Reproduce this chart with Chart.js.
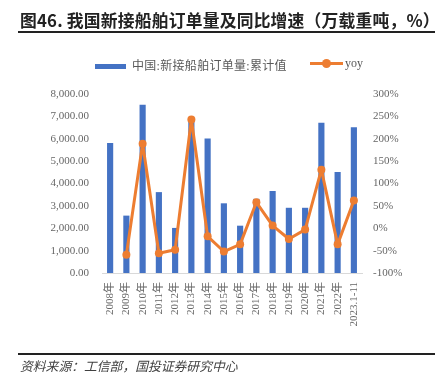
<!DOCTYPE html>
<html><head><meta charset="utf-8">
<script src="https://cdn.jsdelivr.net/npm/chart.js@4"></script>
<style>
html,body{margin:0;padding:0;background:#fff;width:438px;height:381px;overflow:hidden;}
#wrap{position:relative;width:438px;height:381px;}
canvas{position:absolute;left:0;top:0;}
.title{position:absolute;left:20px;top:8px;font:bold 16.8px "Noto Sans CJK SC",sans-serif;color:#222;white-space:nowrap;letter-spacing:0.2px;}
.rule{position:absolute;left:18px;width:417px;height:1.5px;background:#222;}
.src{position:absolute;left:20px;top:354px;font:italic 12.8px "Noto Sans CJK SC",sans-serif;color:#404040;white-space:nowrap;}
.leg{position:absolute;top:56px;font:12px "Liberation Serif","Noto Sans CJK SC",serif;color:#595959;white-space:nowrap;}
</style></head>
<body><div id="wrap">
<canvas id="c" width="438" height="381"></canvas>
<div class="title">图46. 我国新接船舶订单量及同比增速（万载重吨，%）</div>
<div class="rule" style="top:31px"></div>
<div class="leg" style="left:95px"><span style="display:inline-block;width:31px;height:5px;background:#4472C4;vertical-align:middle;margin-right:6px;position:relative;top:-1px"></span><span id="l1" style="letter-spacing:0.3px"></span></div>
<div class="leg" style="left:310px"><span style="display:inline-block;position:relative;width:33px;height:3px;background:#ED7D31;vertical-align:middle;margin-right:2px;top:-1px"><span style="position:absolute;left:12px;top:-3px;width:9px;height:9px;border-radius:50%;background:#ED7D31"></span></span><span id="l2"></span></div>
<div class="rule" style="top:353px"></div>
<div class="src" style="top:356px">资料来源：工信部，国投证券研究中心</div>
</div>
<script>
const categories = ["2008年","2009年","2010年","2011年","2012年","2013年","2014年","2015年","2016年","2017年","2018年","2019年","2020年","2021年","2022年","2023.1-11"];
const orders = [5800,2550,7500,3600,2000,6800,6000,3100,2100,3300,3650,2900,2900,6700,4500,6500];
const yoy = [null,-59,189,-56,-48,243,-18,-52,-36,58,6,-24,-3,131,-36,62];
const barLabel = "中国:新接船舶订单量:累计值";
const lineLabel = "yoy";
const leftTicks = {min:0,max:8000,step:1000};
const rightTicks = {min:-100,max:300,step:50};

document.getElementById('l1').textContent = barLabel;
document.getElementById('l2').textContent = lineLabel;

const tickFont = {family:'"Liberation Serif","Noto Sans CJK SC",serif',size:11};
const tickColor = '#666666';

new Chart(document.getElementById('c'), {
  type:'bar',
  data:{
    labels:categories,
    datasets:[
      {type:'line',label:lineLabel,data:yoy,yAxisID:'y1',borderColor:'#ED7D31',backgroundColor:'#ED7D31',borderWidth:3,borderJoinStyle:'round',borderCapStyle:'round',pointRadius:4,pointHoverRadius:4,pointBorderWidth:0,tension:0,spanGaps:false,order:0},
      {type:'bar',label:barLabel,data:orders,yAxisID:'y',backgroundColor:'#4472C4',barThickness:5.5,order:1}
    ]
  },
  options:{
    responsive:false,animation:false,
    layout:{padding:{top:94,left:0,right:0,bottom:0}},
    plugins:{legend:{display:false},tooltip:{enabled:false}},
    scales:{
      x:{
        grid:{display:false,drawTicks:false},
        border:{display:true,color:'#d9d9d9',width:1},
        ticks:{font:tickFont,color:tickColor,minRotation:90,maxRotation:90,autoSkip:false,padding:9},
        afterFit(s){s.height=108;}
      },
      y:{
        position:'left',min:leftTicks.min,max:leftTicks.max,
        grid:{display:false,drawTicks:false},border:{display:false},
        ticks:{stepSize:leftTicks.step,font:tickFont,color:tickColor,padding:13,
          callback:v=>v.toLocaleString('en-US',{minimumFractionDigits:2,maximumFractionDigits:2})},
        afterFit(s){s.width=102;}
      },
      y1:{
        position:'right',min:rightTicks.min,max:rightTicks.max,
        grid:{display:false,drawTicks:false},border:{display:false},
        ticks:{stepSize:rightTicks.step,font:tickFont,color:tickColor,padding:11,callback:v=>v+'%'},
        afterFit(s){s.width=76;}
      }
    }
  }
});
</script>
</body></html>
